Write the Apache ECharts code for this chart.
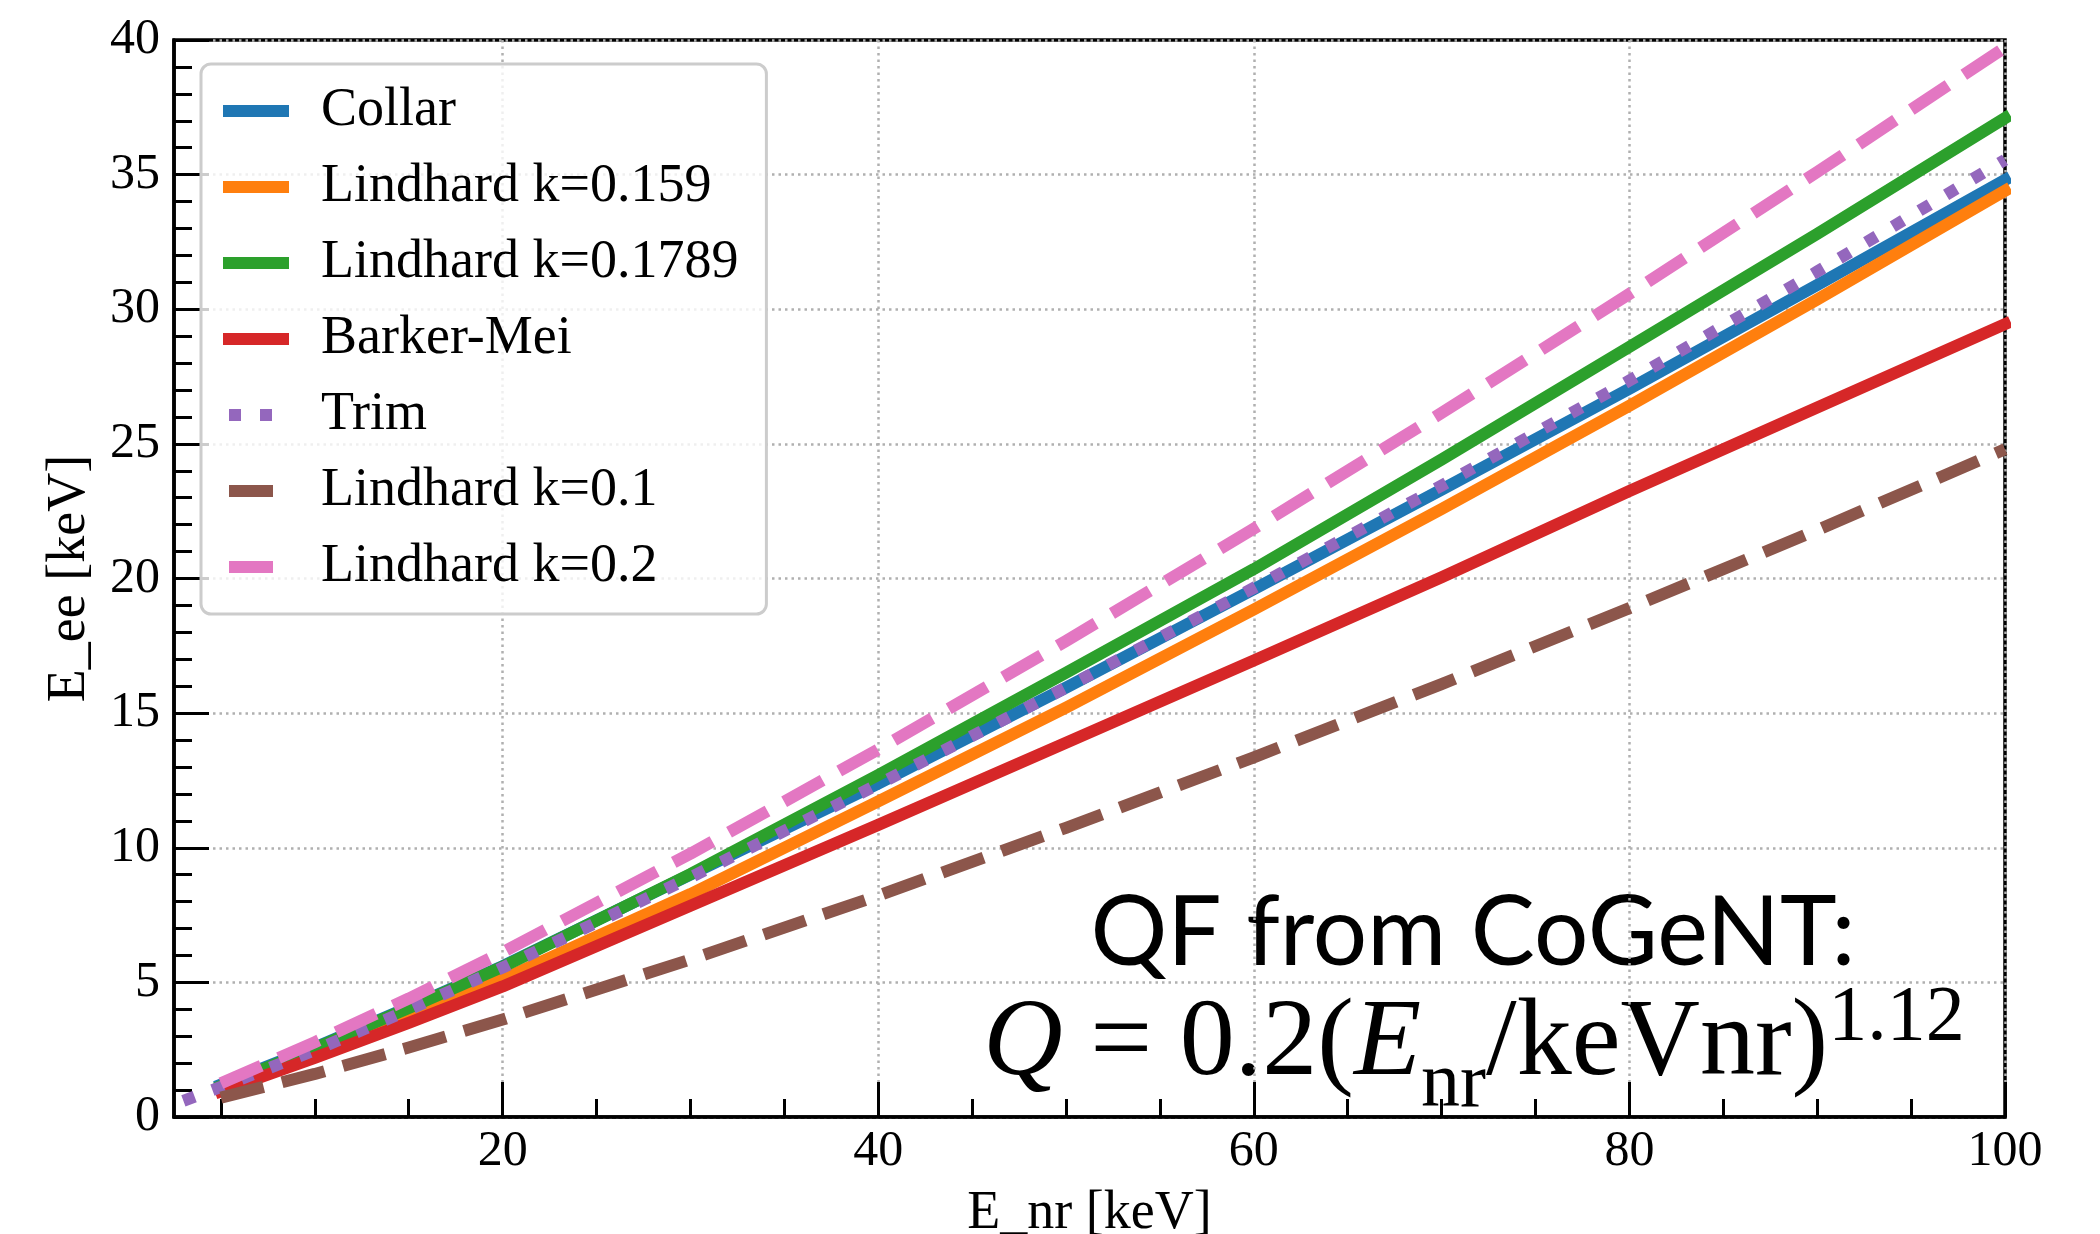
<!DOCTYPE html>
<html><head><meta charset="utf-8">
<script src="https://cdn.jsdelivr.net/npm/echarts@6/dist/echarts.min.js"></script>
<style>html,body{margin:0;padding:0;background:#fff}#c{width:2100px;height:1234px}</style>
</head><body><div id="c"></div>
<script>
// ---- data ----
const xMain = [5, 10, 15, 20, 30, 40, 50, 60, 70, 80, 90, 100];
const xTrim = [3, 5, 10, 15, 20, 30, 40, 50, 60, 70, 80, 90, 100];
const collar    = [1.2, 2.58, 4.08, 5.6, 9.0, 12.38, 15.95, 19.6, 23.3, 27.05, 30.9, 34.8];
const lind0159  = [1.05, 2.3, 3.68, 5.12, 8.28, 11.72, 15.2, 18.85, 22.58, 26.42, 30.36, 34.4];
const lind01789 = [1.15, 2.55, 4.05, 5.58, 9.02, 12.7, 16.5, 20.35, 24.42, 28.6, 32.8, 37.1];
const barkerMei = [0.95, 2.2, 3.5, 4.85, 7.85, 10.85, 13.9, 16.95, 20.05, 23.25, 26.35, 29.45];
const trim      = [0.6, 1.12, 2.48, 3.98, 5.55, 8.9, 12.35, 15.95, 19.65, 23.45, 27.35, 31.4, 35.55];
const lind01    = [0.72, 1.6, 2.58, 3.62, 5.85, 8.22, 10.74, 13.36, 16.08, 18.9, 21.8, 24.8];
const lind02    = [1.25, 2.78, 4.4, 6.12, 9.78, 13.65, 17.68, 21.85, 26.15, 30.57, 35.1, 39.72];
const seriesNames = ['Collar', 'Lindhard k=0.159', 'Lindhard k=0.1789', 'Barker-Mei', 'Trim', 'Lindhard k=0.1', 'Lindhard k=0.2'];
const xMajorTicks = [20, 40, 60, 80, 100];
const xMinorTicks = [5, 10, 15, 25, 30, 35, 45, 50, 55, 65, 70, 75, 85, 90, 95];
const annotLine1 = 'QF from CoGeNT:';

// ---- build ----
const pair = (xs, ys) => xs.map((x, i) => [x, ys[i]]);
const seriesData = [
  pair(xMain, collar), pair(xMain, lind0159), pair(xMain, lind01789), pair(xMain, barkerMei),
  pair(xTrim, trim), pair(xMain, lind01), pair(xMain, lind02)
];
const colors = ['#1f77b4', '#ff7f0e', '#2ca02c', '#d62728', '#9467bd', '#8c564b', '#e377c2'];
const LW = 12;
const dashed = [44, 19], dotted = [12, 19];
const styles = ['solid', 'solid', 'solid', 'solid', dotted, dashed, dashed];
const SERIF = "'Liberation Serif', 'Times New Roman', serif";

const series = seriesNames.map((name, i) => ({
  name, type: 'line', xAxisIndex: 0, yAxisIndex: 0,
  data: seriesData[i], symbol: 'none', showSymbol: false, smooth: false,
  color: colors[i],
  lineStyle: { color: colors[i], width: LW, type: styles[i], cap: styles[i] === 'solid' ? 'square' : 'butt', join: 'round' },
  emphasis: { disabled: true }, silent: true
}));

const chart = echarts.init(document.getElementById('c'), null, { renderer: 'canvas' });
const gridLine = { show: true, lineStyle: { color: '#b0b0b0', width: 2.5, type: [2.5, 4] } };
chart.setOption({
  animation: false,
  backgroundColor: '#fff',
  grid: { left: 174, right: 95, top: 40, bottom: 117, outerBoundsMode: 'none', containLabel: false, show: true, borderColor: '#000', borderWidth: 3.5, backgroundColor: 'transparent' },
  xAxis: [
    {
      type: 'value', min: 2.5, max: 100,
      name: 'E_nr [keV]', nameLocation: 'middle', nameGap: 70,
      nameTextStyle: { fontFamily: SERIF, fontSize: 54, color: '#000' },
      axisLine: { show: true, lineStyle: { color: '#000', width: 3.5 } },
      axisTick: { show: true, inside: true, length: 35, customValues: xMajorTicks, lineStyle: { color: '#000', width: 3 } },
      axisLabel: { show: true, customValues: xMajorTicks, margin: 10, fontFamily: SERIF, fontSize: 50, color: '#000' },
      splitLine: gridLine
    },
    {
      type: 'value', min: 2.5, max: 100, position: 'bottom',
      axisLine: { show: false },
      axisTick: { show: true, inside: true, length: 18, customValues: xMinorTicks, lineStyle: { color: '#000', width: 3 } },
      axisLabel: { show: false },
      splitLine: { show: false }
    }
  ],
  yAxis: {
    type: 'value', min: 0, max: 40, interval: 5,
    name: 'E_ee [keV]', nameLocation: 'middle', nameGap: 77,
    nameTextStyle: { fontFamily: SERIF, fontSize: 54, color: '#000' },
    axisLine: { show: true, lineStyle: { color: '#000', width: 3.5 } },
    axisTick: { show: true, inside: true, length: 35, lineStyle: { color: '#000', width: 3 } },
    minorTick: { show: true, splitNumber: 5, length: 18, lineStyle: { color: '#000', width: 3 } },
    axisLabel: { margin: 14, fontFamily: SERIF, fontSize: 50, color: '#000' },
    splitLine: gridLine
  },
  legend: {
    orient: 'vertical', left: 201, top: 64,
    padding: [19, 28, 19, 22],
    itemWidth: 54, itemHeight: 20, itemGap: 20,
    backgroundColor: 'rgba(255,255,255,0.8)', borderColor: '#cccccc', borderWidth: 3, borderRadius: 10,
    textStyle: { fontFamily: SERIF, fontSize: 54, color: '#000', lineHeight: 56, padding: [0, 0, 0, 33] },
    lineStyle: { width: LW },
    itemStyle: { opacity: 0 },
    selectedMode: false,
    data: seriesNames
  },
  graphic: [
    {
      type: 'text', x: 1473, y: 934, silent: true,
      style: { text: annotLine1, fontFamily: "Lato, 'Open Sans', sans-serif", fontSize: 96, fill: '#000', align: 'center', verticalAlign: 'middle' }
    },
    {
      type: 'text', x: 1474, y: 1045, silent: true,
      style: {
        text: '{i|Q}{m| = 0.2(}{i|E}{sub|nr}{m|/keVnr)}{sup|1.12}',
        align: 'center', verticalAlign: 'middle', fill: '#000',
        fontFamily: SERIF, fontSize: 110,
        rich: {
          m: { fontFamily: SERIF, fontSize: 110, lineHeight: 160, fill: '#000' },
          i: { fontFamily: SERIF, fontSize: 110, fontStyle: 'italic', lineHeight: 160, fill: '#000' },
          sub: { fontFamily: SERIF, fontSize: 78, verticalAlign: 'bottom', fill: '#000' },
          sup: { fontFamily: SERIF, fontSize: 78, verticalAlign: 'top', padding: [15, 0, 0, 0], fill: '#000' }
        }
      }
    }
  ],
  series
});
</script>
</body></html>
